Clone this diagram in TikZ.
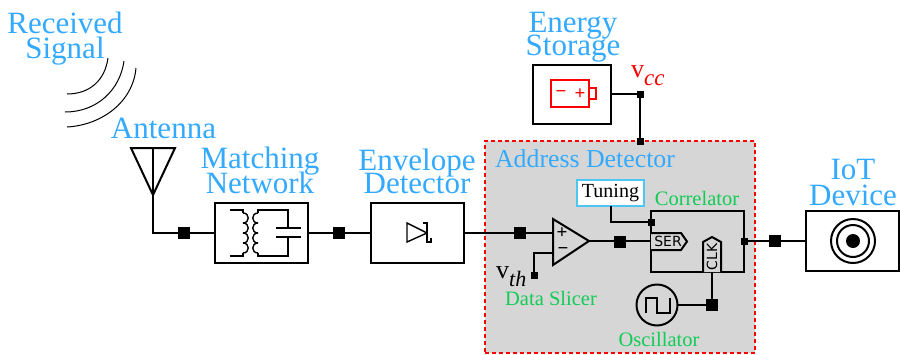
\documentclass[tikz,border=0pt]{standalone}
\usepackage{fontspec}
\setmainfont{Liberation Serif}
\newfontfamily\tagfont{DejaVu Sans}
\definecolor{titleblue}{HTML}{33AAFF}
\definecolor{labelgreen}{HTML}{11CC55}
\definecolor{detectgray}{HTML}{D6D6D6}
\newcommand{\tightlines}{\lineskiplimit-30pt\relax}
\tikzset{
  blockbox/.style={draw,line width=2pt,minimum width=93pt,minimum height=60pt,outer sep=0pt},
  bigdot/.style={fill=black,minimum size=12pt,inner sep=0pt,outer sep=0pt},
  smalldot/.style={fill=black,minimum size=7pt,inner sep=0pt,outer sep=0pt},
  title/.style={text=titleblue,align=center,inner sep=0pt,anchor=base,font=\fontsize{31}{#1}\selectfont\tightlines},
  title/.default=25,
  partname/.style={text=labelgreen,inner sep=0pt,anchor=base,font=\fontsize{20.5}{22}\selectfont},
  signs/.style={inner sep=0pt,font=\bfseries\fontsize{19}{19}\selectfont},
  wire/.style={line width=2pt},
  thinwire/.style={line width=1.4pt},
}
\begin{document}
\begin{tikzpicture}[x=1pt,y=-1pt]
  \useasboundingbox (0,0) rectangle (900,354);
  \node[draw=red,dash pattern=on 4pt off 3pt,line width=1.5pt,fill=detectgray,minimum width=270pt,minimum height=212pt,outer sep=0pt] (detector) at (620,247) {};
  %blocks
  \node[blockbox] (match) at (261.5,232.5) {};
  \node[blockbox] (envelope) at (417,232.5) {};
  \node[blockbox] (device) at (852.5,241) {};
  \node[blockbox,minimum width=78pt,minimum height=59pt] (storage) at (572,94) {};
  \node[blockbox,minimum height=61pt] (correlator) at (697.5,241.5) {};
  \node[draw=cyan!70,line width=1.5pt,fill=white,minimum width=67pt,minimum height=26pt,inner sep=0pt,outer sep=0pt,font=\fontsize{20}{22}\selectfont] (tuning) at (610.5,193) {Tuning};
  \node[draw,line width=2pt,circle,minimum size=41pt,inner sep=0pt,outer sep=0pt] (osc) at (657,305) {};
  %received signal
  \draw[line width=1pt] (67,94) .. controls (90,94) and (105,80) .. (108,58);
  \draw[line width=1pt] (65,112) .. controls (97,112) and (120,90) .. (124,61);
  \draw[line width=1pt] (67,127) .. controls (102,125) and (133,102) .. (136,68);
  %antenna
  \coordinate (anttop) at (153,148);
  \coordinate (antapex) at (153,195);
  \coordinate (antcorner) at (153,232.5);
  \draw[wire] (131,148)--(175,148)--(antapex)--cycle;
  \draw[wire] (anttop)--(antcorner)--(match.west);
  \node[bigdot] (dotant) at (184,232.5) {};
  \draw[wire] (match.east)--(envelope.west);
  \node[bigdot] (dotmatch) at (339,232.5) {};
  %matching network
  \draw[thinwire] (230,210)--(243,210)--(243,213);
  \foreach \y in {213,223,233,243}
    \draw[thinwire] (243,\y) .. controls +(7,0) and +(7,0) .. +(0,10);
  \draw[thinwire] (243,253)--(243,256)--(230,256);
  \draw[thinwire] (258,213)--(258,210)--(288,210)--(288,228);
  \foreach \y in {213,223,233,243}
    \draw[thinwire] (258,\y) .. controls +(-7,0) and +(-7,0) .. +(0,10);
  \draw[thinwire] (258,253)--(258,256)--(288,256)--(288,237);
  \draw[wire] (276,228)--(301,228);
  \draw[wire] (276,237)--(301,237);
  %envelope detector
  \draw[thinwire] (427,233)--(407,223)--(407,242)--(427,233);
  \draw[thinwire] (423,223)--(427,223)--(427,242)--(431,242)--(431,238);
  %energy storage
  \draw[red,thinwire] (551,80) rectangle (589,107);
  \draw[red,thinwire] (589,88) rectangle (596,99);
  \node[signs,red] (batminus) at (561,94) {−};
  \node[signs,red] (batplus) at (580,94) {+};
  \node[smalldot] (dotcc) at (640,94) {};
  \node[smalldot] (dotin) at (640,141) {};
  \draw[wire] (storage.east)--(dotcc)--(dotin);
  %address detector
  \coordinate (sliceplus) at (553,232.5);
  \coordinate (sliceminus) at (553,253);
  \coordinate (sliceout) at (589,241);
  \node[smalldot] (dotth) at (534,275) {};
  \draw[wire,fill=detectgray] (553,219)--(553,265)--(sliceout)--cycle;
  \node[signs] (sliceplussign) at (562,233) {+};
  \node[signs] (sliceminussign) at (563,251) {−};
  \draw[wire] (envelope.east)--(sliceplus);
  \draw[wire] (sliceminus)-|(dotth);
  \node[bigdot] (dotenv) at (520,232.5) {};
  \draw[wire] (sliceout)--(651,241);
  \node[bigdot] (dotslice) at (620,241.5) {};
  \node[smalldot] (dottune) at (651,222) {};
  \draw[wire] (tuning.south)|-(dottune);
  \draw[wire,fill=detectgray] (651,233)--(681,233)--(687,241.5)--(681,250)--(651,250);
  \node[inner sep=0pt,font=\tagfont\fontsize{14}{14}\selectfont] (ser) at (668,241.5) {SER};
  \draw[wire,fill=detectgray] (703,272)--(703,242)--(712,237)--(721,242)--(721,272);
  \node[inner sep=0pt,rotate=90,font=\tagfont\fontsize{14}{14}\selectfont] (clk) at (712,257) {CLK};
  \node[bigdot] (dotosc) at (712,305) {};
  \draw[wire] (osc.east)--(dotosc)--(712,272);
  \draw[wire] (646,313)--(646,298)--(657,298)--(657,313)--(670,313)--(670,298);
  %output
  \node[smalldot] (dotout) at (744,241) {};
  \draw[wire] (dotout)--(device.west);
  \node[bigdot] (dotdev) at (775,241) {};
  \draw[wire] (853,241) circle (22);
  \draw[wire] (853,241) circle (16);
  \fill (853,241) circle (7);
  %labels
  \node[title=25.5] (lblsignal) at (65,58.5) {Received\\Signal};
  \node[title] (lblantenna) at (163.5,138) {Antenna};
  \node[title=25] (lblmatch) at (260,193) {Matching\\Network};
  \node[title=23] (lblenvelope) at (417,193) {Envelope\\Detector};
  \node[title=23] (lblstorage) at (573,55) {Energy\\Storage};
  \node[title=26] (lbldevice) at (853,205) {IoT\\Device};
  \node[title,font=\fontsize{25.8}{26}\selectfont] (lbldetector) at (585,167) {Address Detector};
  \node[partname] (lblcorrelator) at (697,205) {Correlator};
  \node[partname] (lblslicer) at (551,305.5) {Data Slicer};
  \node[partname] (lblosc) at (659,346) {Oscillator};
  \node[text=red,inner sep=0pt,anchor=base west,font=\fontsize{26}{26}\selectfont] (lblcc) at (631,77) {v\raisebox{-8pt}{\fontsize{23}{23}\selectfont\itshape cc}};
  \node[inner sep=0pt,anchor=base west,font=\fontsize{26}{26}\selectfont] (lblth) at (496,278) {v\raisebox{-8pt}{\fontsize{22}{22}\selectfont\itshape th}};
\end{tikzpicture}
\end{document}
